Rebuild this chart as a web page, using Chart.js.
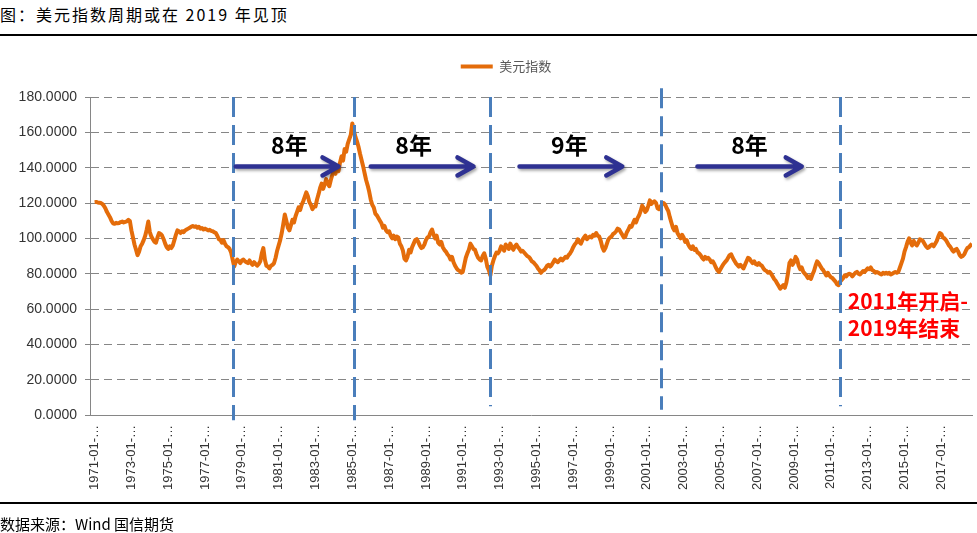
<!DOCTYPE html>
<html lang="zh-CN">
<head>
<meta charset="utf-8">
<title>美元指数周期</title>
<script src="https://cdn.jsdelivr.net/npm/chart.js@4.4.1/dist/chart.umd.min.js"></script>
<style>
  body { margin: 0; background: #fff; }
  #wrap { position: relative; width: 977px; height: 533px; overflow: hidden; background: #fff; }
  #chart { position: absolute; left: 0; top: 0; }
  .title { position: absolute; left: 0; top: 3px; font: 16px "Noto Sans CJK SC", sans-serif; letter-spacing: 2px; line-height: 22px; color: #000; white-space: nowrap; }
  .rule { position: absolute; left: 0; width: 977px; height: 2px; background: #000; }
  .source { position: absolute; left: 0; top: 513px; font: 15px "Noto Sans CJK SC", sans-serif; line-height: 22px; color: #000; white-space: nowrap; }
</style>
</head>
<body>
<div id="wrap">
  <div class="title">图：美元指数周期或在 2019 年见顶</div>
  <div class="rule" style="top:34px"></div>
  <canvas id="chart" width="977" height="533"></canvas>
  <div class="rule" style="top:502px"></div>
  <div class="source">数据来源：Wind 国信期货</div>
</div>
<script>
// 美元指数月度数据，1971-01 起，每行一年
const dxy1970s = [
  120.5,120.6,120.3,120.2,120.0,119.5,118.5,117.0,115.0,113.5,112.0,110.0,
  108.5,108.2,108.8,108.5,108.7,109.2,109.5,109.0,109.3,109.6,110.5,109.8,
  104.5,100.5,96.5,93.5,90.5,92.5,95.5,97.0,99.0,101.5,105.0,109.5,
  103.5,101.0,99.5,98.0,97.5,100.5,103.0,102.5,101.5,99.5,97.0,95.0,
  94.0,95.5,94.5,96.0,99.0,102.0,104.5,104.0,103.0,104.0,103.5,104.5,
  105.0,105.5,106.0,106.5,107.0,106.5,106.8,106.0,106.5,105.5,105.8,105.0,
  105.5,105.0,104.5,104.8,104.2,104.0,103.5,103.0,101.5,99.5,99.0,97.5,
  99.0,97.0,95.5,95.0,94.0,92.0,88.0,84.0,86.5,88.0,87.0,86.0,
  87.5,88.0,87.0,86.5,86.0,87.5,86.0,85.0,86.5,85.5,84.5,85.5
];
const dxy1980s = [
  87.0,91.5,94.5,88.0,84.5,84.0,83.0,84.5,85.0,86.0,89.0,93.0,
  96.0,99.0,103.0,108.0,113.5,110.0,106.0,104.5,107.5,110.5,109.0,112.5,
  115.0,117.5,116.0,119.0,121.0,123.5,126.0,124.0,120.5,119.0,116.5,118.0,
  118.0,122.0,125.0,128.5,131.0,128.0,130.5,133.5,131.0,129.5,133.0,136.0,
  138.0,136.5,139.5,138.0,143.0,146.5,144.0,150.5,149.0,153.5,156.0,158.5,
  165.0,161.0,157.5,155.0,152.0,148.0,144.5,141.0,137.0,133.0,130.0,126.5,
  122.0,119.0,117.5,114.0,113.0,111.5,110.0,108.5,106.0,107.0,104.5,103.5,
  104.0,101.5,100.0,101.5,99.5,101.0,100.5,97.0,95.5,93.0,88.5,87.5,
  89.5,93.5,92.0,95.0,97.0,99.0,99.5,98.0,96.0,94.5,95.0,96.5,
  99.0,100.5,101.0,103.5,105.0,102.0,100.0,101.5,97.5,96.5,98.0,95.0
];
const dxy1990s = [
  93.5,92.5,91.0,90.0,88.0,89.5,86.5,84.5,83.0,82.0,81.5,80.5,
  81.0,85.0,89.0,91.5,93.5,97.0,95.5,94.0,93.5,91.0,89.0,88.0,
  87.5,90.0,91.5,88.5,84.0,82.0,79.0,84.5,87.5,90.0,92.0,91.5,
  93.0,95.5,94.5,93.0,96.5,95.5,94.0,97.0,95.0,93.5,95.5,96.5,
  95.0,94.0,92.5,93.0,92.0,91.0,90.0,89.5,88.5,87.0,86.5,85.5,
  84.5,83.0,82.0,80.5,81.5,82.0,83.0,84.5,85.0,84.0,85.0,86.5,
  88.0,87.0,86.5,87.5,88.5,87.5,88.5,89.5,89.0,90.5,91.5,93.0,
  95.0,96.5,97.5,99.5,98.0,97.0,99.0,100.5,101.5,99.5,100.5,101.0,
  100.5,102.0,101.5,103.0,101.5,101.0,98.5,95.0,93.0,94.5,97.0,99.5,
  100.5,101.0,102.5,103.0,104.0,105.5,105.0,103.5,102.0,100.5,101.0,103.5
];
const dxy2000s = [
  105.0,107.0,106.5,108.5,110.5,109.0,111.5,113.0,115.5,118.5,117.0,115.0,
  116.0,118.5,121.5,119.5,120.5,121.0,120.0,117.0,116.5,118.0,119.5,120.0,
  119.0,117.0,115.5,112.0,109.0,106.0,104.5,106.5,103.0,101.5,100.0,102.0,
  100.5,98.0,99.0,96.5,95.0,94.0,95.5,93.5,94.0,92.0,91.5,90.5,
  89.0,88.0,89.5,88.5,89.0,88.0,86.5,87.0,85.5,83.5,82.0,81.0,
  82.5,84.0,85.5,86.5,87.5,89.0,90.5,91.0,89.0,87.5,86.0,85.0,
  84.0,85.0,84.0,83.0,85.0,87.0,89.0,88.5,87.0,86.0,87.0,85.5,
  85.0,86.0,85.0,84.5,83.0,82.0,81.5,80.5,81.0,80.0,78.5,77.0,
  76.0,74.5,73.0,71.5,72.5,73.5,72.0,75.0,80.0,86.0,87.5,85.0,
  86.5,89.5,88.0,84.5,82.5,83.5,81.0,80.0,79.0,77.5,78.5,77.0
];
const dxy2010s = [
  79.5,81.5,84.5,87.0,86.0,84.5,83.0,82.0,80.5,79.0,80.5,79.0,
  78.0,77.5,76.5,75.5,74.0,73.5,75.5,76.5,77.5,79.0,78.5,79.5,
  80.0,79.5,78.5,79.5,80.5,81.0,80.0,79.5,80.5,81.5,81.0,82.0,
  83.0,82.5,83.5,82.0,81.5,80.5,81.0,80.5,80.0,79.5,80.5,80.0,
  80.5,80.0,80.5,79.5,80.0,80.5,81.0,80.5,81.0,83.5,86.0,88.5,
  92.5,95.0,98.0,100.0,97.5,96.0,98.5,97.0,96.0,97.5,99.5,99.0,
  98.5,97.0,95.5,94.5,95.0,96.0,96.5,95.5,97.0,98.5,101.0,103.0,
  102.5,100.5,100.0,99.0,97.5,96.0,95.0,93.5,92.5,93.5,94.0,92.5,
  90.5,89.5,90.0,91.0,93.0,94.5,95.0,96.0,97.0
];
const dxyValues = [].concat(dxy1970s, dxy1980s, dxy1990s, dxy2000s, dxy2010s);

// 横轴标签（每两年）
const tickLabels = [
  '1971-01-…','1973-01-…','1975-01-…','1977-01-…','1979-01-…','1981-01-…',
  '1983-01-…','1985-01-…','1987-01-…','1989-01-…','1991-01-…','1993-01-…',
  '1995-01-…','1997-01-…','1999-01-…','2001-01-…','2003-01-…','2005-01-…',
  '2007-01-…','2009-01-…','2011-01-…','2013-01-…','2015-01-…','2017-01-…'
];
const tickMonths = tickLabels.map(s => (parseInt(s, 10) - 1971) * 12);

// 纵轴
const yTicks = [0, 20, 40, 60, 80, 100, 120, 140, 160, 180];

// 周期标注（月序号，以 1971-01 为 0）
const cycleLineMonths = [90, 169, 258, 369, 486];
const cycleLineSpans = [[180, -3], [180, -3], [180, 5], [185, 3], [180, 5]];
const cycleArrows = [[92, 159], [180, 247], [277, 344], [393, 461]];
const arrowLevel = 140.7;
const cycleLabels = ['8年', '8年', '9年', '8年'];
const cycleLabelMonths = [127, 208, 309.5, 427];
const labelLevel = 152.5;
const noteLines = ['2011年开启-', '2019年结束'];
const noteLevels = [64.7, 49.5];
const noteMonth = 491;

const cjk = '"Noto Sans CJK SC", sans-serif';

const cyclePlugin = {
  id: 'cycleMarks',
  beforeInit(chart) {
    // 图例下方留白
    const fit = chart.legend.fit;
    chart.legend.fit = function () {
      fit.call(this);
      this.height = 47;
    };
  },
  afterLayout(chart) {
    chart.legend.left += 20;
    chart.legend.right += 20;
  },
  afterDatasetsDraw(chart) {
    const { ctx, scales: { x, y } } = chart;
    ctx.save();

    // 竖直虚线
    ctx.strokeStyle = '#4A7EBB';
    ctx.lineWidth = 3;
    ctx.setLineDash([20, 8]);
    cycleLineMonths.forEach((m, i) => {
      const px = Math.round(x.getPixelForValue(m)) + 0.5;
      ctx.beginPath();
      ctx.moveTo(px, y.getPixelForValue(cycleLineSpans[i][0]));
      ctx.lineTo(px, y.getPixelForValue(cycleLineSpans[i][1]));
      ctx.stroke();
    });
    ctx.setLineDash([]);

    // 箭头
    const ay = y.getPixelForValue(arrowLevel);
    cycleArrows.forEach(([m1, m2]) => {
      const x1 = x.getPixelForValue(m1);
      const x2 = x.getPixelForValue(m2);
      ctx.save();
      ctx.strokeStyle = '#2E3192';
      ctx.lineWidth = 4.5;
      ctx.lineCap = 'round';
      ctx.lineJoin = 'round';
      ctx.shadowColor = 'rgba(0,0,0,0.35)';
      ctx.shadowBlur = 3;
      ctx.shadowOffsetX = 1.5;
      ctx.shadowOffsetY = 2;
      ctx.beginPath();
      ctx.moveTo(x1, ay);
      ctx.lineTo(x2 - 2, ay);
      ctx.moveTo(x2 - 16, ay - 9);
      ctx.lineTo(x2, ay);
      ctx.lineTo(x2 - 16, ay + 9);
      ctx.stroke();
      ctx.restore();
    });

    // 周期文字
    ctx.fillStyle = '#000';
    ctx.font = 'bold 23px ' + cjk;
    ctx.textAlign = 'center';
    ctx.textBaseline = 'middle';
    cycleLabels.forEach((t, i) => {
      ctx.fillText(t, x.getPixelForValue(cycleLabelMonths[i]), y.getPixelForValue(labelLevel));
    });

    // 红色说明
    ctx.fillStyle = '#FF0000';
    ctx.font = 'bold 21px ' + cjk;
    ctx.textAlign = 'left';
    noteLines.forEach((t, i) => {
      ctx.fillText(t, x.getPixelForValue(noteMonth), y.getPixelForValue(noteLevels[i]));
    });

    ctx.restore();
  }
};

Chart.defaults.font.family = '"Liberation Sans", Arial, sans-serif';
Chart.defaults.color = '#333';

new Chart(document.getElementById('chart'), {
  type: 'line',
  data: {
    datasets: [{
      label: '美元指数',
      data: dxyValues.map((v, i) => ({ x: i, y: v })),
      borderColor: '#E46C0A',
      backgroundColor: '#E46C0A',
      borderWidth: 4,
      pointRadius: 0,
      tension: 0,
      borderJoinStyle: 'round'
    }]
  },
  options: {
    responsive: false,
    animation: false,
    layout: { padding: { top: 50, right: 5, left: 0, bottom: 0 } },
    plugins: {
      legend: {
        position: 'top',
        labels: {
          usePointStyle: true,
          pointStyle: 'line',
          pointStyleWidth: 32,
          color: '#595959',
          font: { size: 13, family: cjk }
        }
      },
      tooltip: { enabled: false }
    },
    scales: {
      x: {
        type: 'linear',
        min: -3,
        max: 572,
        afterBuildTicks: (scale) => { scale.ticks = tickMonths.map(v => ({ value: v })); },
        afterFit: (scale) => { scale.height = 118; },
        grid: { display: false },
        border: { display: true, color: '#868686', width: 1 },
        ticks: {
          autoSkip: false,
          minRotation: 90,
          maxRotation: 90,
          padding: 2,
          font: { size: 13 },
          callback: (v, i) => tickLabels[i]
        }
      },
      y: {
        min: 0,
        max: 180,
        afterBuildTicks: (scale) => { scale.ticks = yTicks.map(v => ({ value: v })); },
        afterFit: (scale) => { scale.width = 90; },
        grid: { color: '#868686', lineWidth: 1, tickLength: 5 },
        border: { display: true, color: '#868686', width: 1, dash: [8, 5] },
        ticks: {
          padding: 8,
          font: { size: 14 },
          callback: (v) => Number(v).toFixed(4)
        }
      }
    }
  },
  plugins: [cyclePlugin]
});
</script>
</body>
</html>
